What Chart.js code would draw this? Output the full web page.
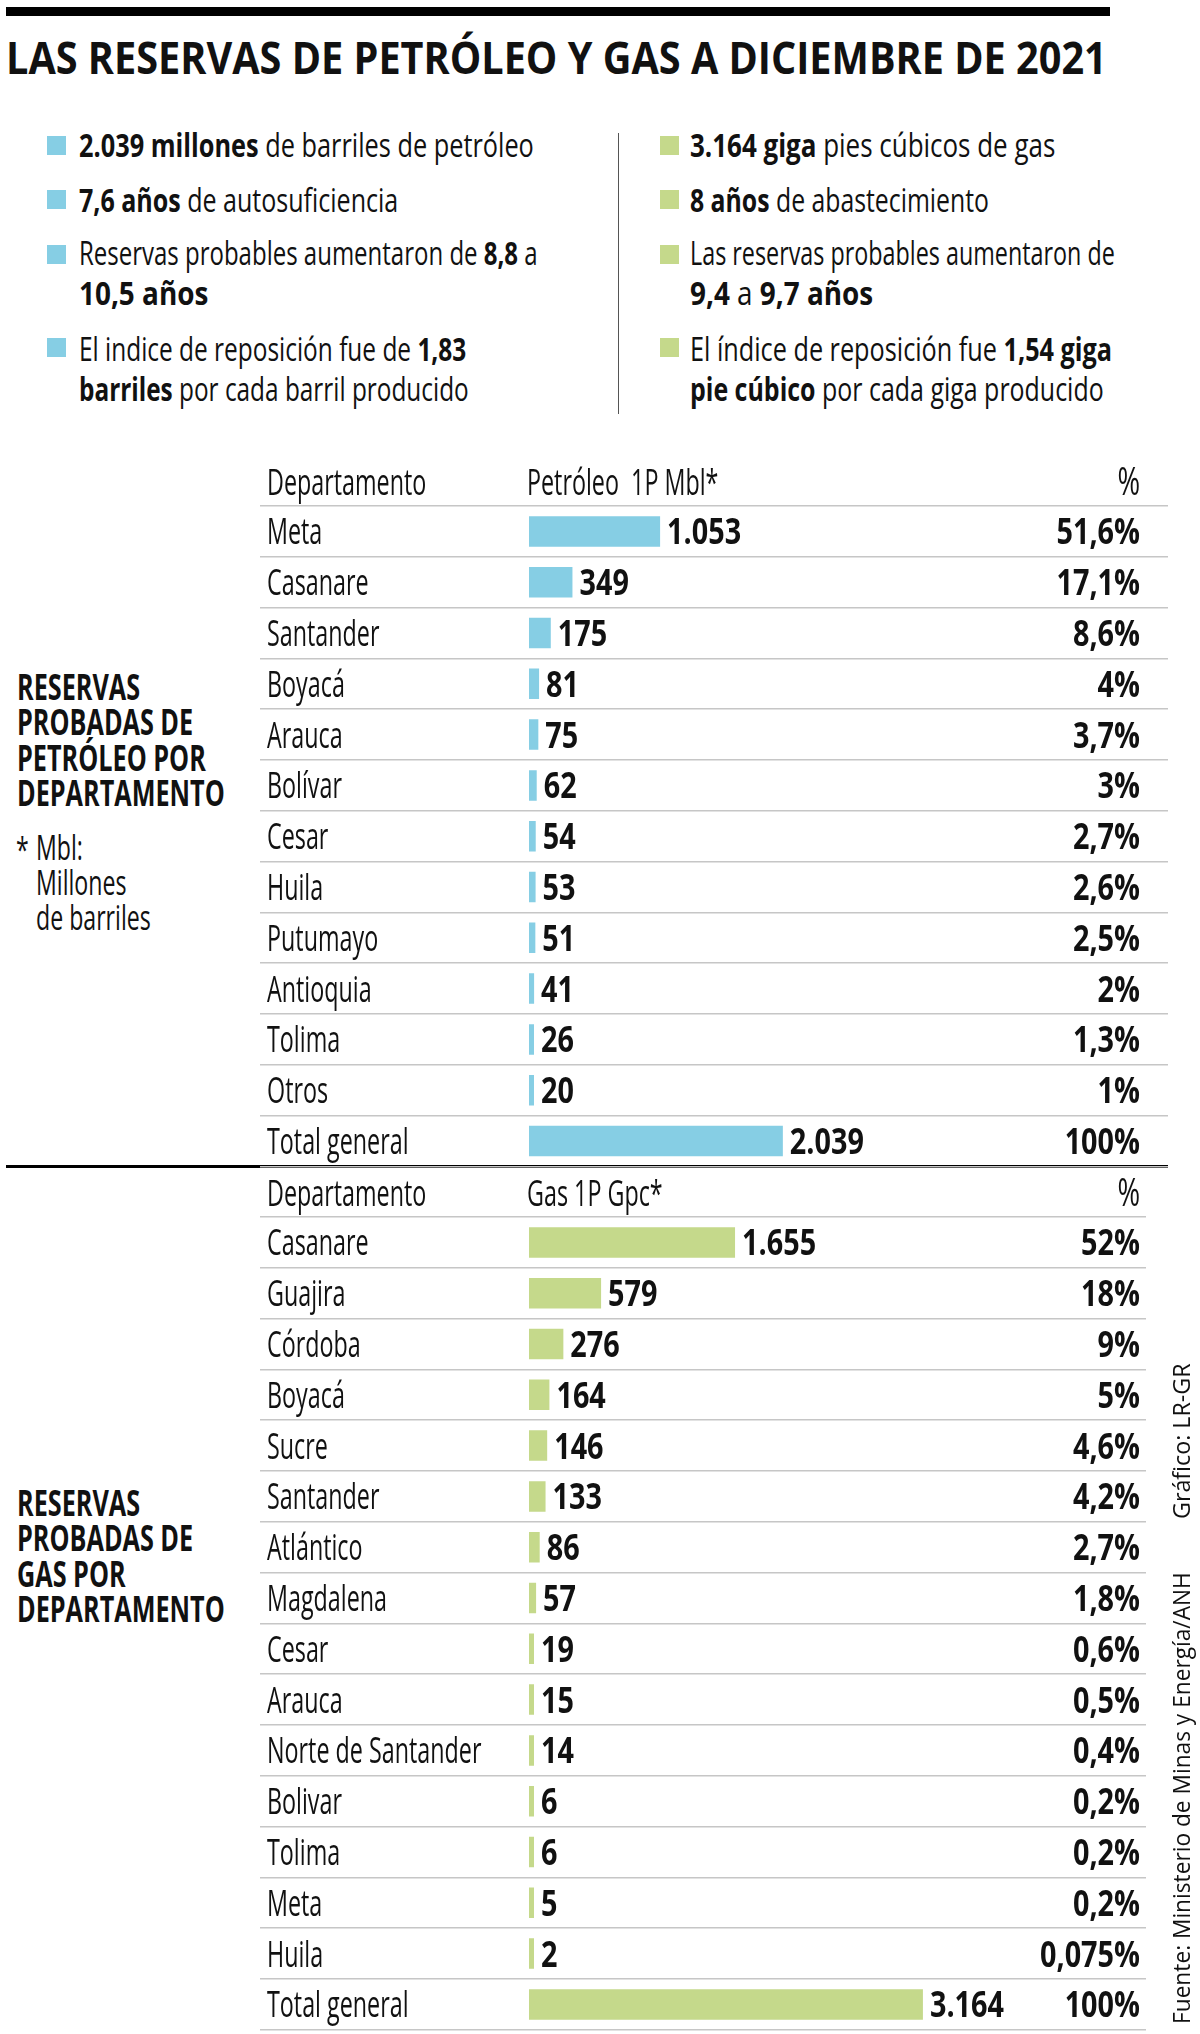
<!DOCTYPE html>
<html>
<head>
<meta charset="utf-8">
<script src="https://cdn.jsdelivr.net/npm/chart.js@4.4.1/dist/chart.umd.min.js"></script>
<style>
  body { margin: 0; width: 1200px; height: 2034px; position: relative; background: #fff; overflow: hidden;
         font-family: 'Open Sans', sans-serif; color: #111; }
  .abs { position: absolute; white-space: nowrap; transform-origin: 0 0; }
  .bar { position: absolute; background: #000; }
  .sq { position: absolute; width: 19px; height: 19px; }
  .ln { position: absolute; white-space: nowrap; transform-origin: 0 0; font-size: 32px; line-height: 32px; }
  .ln b { font-weight: 700; }
  .cap { font-size: 36px; font-weight: 700; line-height: 35.3px; }
  .note { font-size: 35px; line-height: 35px; }
  .vert { font-size: 24px; line-height: 24px; transform-origin: 0 0; }
  canvas { position: absolute; left: 0; }
</style>
</head>
<body>

<div class="bar" style="left:6px;top:7px;width:1104px;height:9px"></div>
<div class="abs fit" data-w="1101" style="left:6px;top:34px;font-size:45px;line-height:45px;font-weight:700">LAS RESERVAS DE PETRÓLEO Y GAS A DICIEMBRE DE 2021</div>

<!-- left bullets -->
<div class="sq blue" style="left:47px;top:136px"></div>
<div class="ln fit" data-w="455" style="left:79px;top:129px"><b>2.039 millones</b> de barriles de petróleo</div>
<div class="sq blue" style="left:47px;top:190px"></div>
<div class="ln fit" data-w="319" style="left:79px;top:184px"><b>7,6 años</b> de autosuficiencia</div>
<div class="sq blue" style="left:47px;top:245px"></div>
<div class="ln fit" data-w="459" style="left:79px;top:237px">Reservas probables aumentaron de <b>8,8</b> a</div>
<div class="ln fit" data-w="129" style="left:79px;top:277px"><b>10,5 años</b></div>
<div class="sq blue" style="left:47px;top:338px"></div>
<div class="ln fit" data-w="387" style="left:79px;top:333px">El indice de reposición fue de <b>1,83</b></div>
<div class="ln fit" data-w="390" style="left:79px;top:373px"><b>barriles</b> por cada barril producido</div>

<div class="abs" style="left:618px;top:133px;width:1px;height:281px;background:#555"></div>

<!-- right bullets -->
<div class="sq green" style="left:660px;top:136px"></div>
<div class="ln fit" data-w="365" style="left:690px;top:129px"><b>3.164 giga</b> pies cúbicos de gas</div>
<div class="sq green" style="left:660px;top:190px"></div>
<div class="ln fit" data-w="299" style="left:690px;top:184px"><b>8 años</b> de abastecimiento</div>
<div class="sq green" style="left:660px;top:245px"></div>
<div class="ln fit" data-w="425" style="left:690px;top:237px">Las reservas probables aumentaron de</div>
<div class="ln fit" data-w="183" style="left:690px;top:277px"><b>9,4</b> a <b>9,7 años</b></div>
<div class="sq green" style="left:660px;top:338px"></div>
<div class="ln fit" data-w="422" style="left:690px;top:333px">El índice de reposición fue <b>1,54 giga</b></div>
<div class="ln fit" data-w="414" style="left:690px;top:373px"><b>pie cúbico</b> por cada giga producido</div>

<!-- side captions -->
<div class="abs cap fit" data-w="208" style="left:17px;top:669px">RESERVAS<br>PROBADAS DE<br>PETRÓLEO POR<br>DEPARTAMENTO</div>
<div class="abs note" style="left:16px;top:831px;transform:scaleX(0.66)">*</div>
<div class="abs note fit" data-w="115" style="left:36px;top:829px">Mbl:<br>Millones<br>de barriles</div>
<div class="abs cap fit" data-w="208" style="left:17px;top:1485px">RESERVAS<br>PROBADAS DE<br>GAS POR<br>DEPARTAMENTO</div>

<div class="bar" style="left:6px;top:1165px;width:1162px;height:3px"></div>

<canvas id="oilChart"></canvas>
<canvas id="gasChart"></canvas>

<div class="abs vert fit" data-w="452" data-rot="1" style="left:1169px;top:2024px">Fuente: Ministerio de Minas y Energía/ANH</div>
<div class="abs vert fit" data-w="156" data-rot="1" style="left:1169px;top:1519px">Gráfico: LR-GR</div>

<script>
// petróleo
const oilDepartments = ['Meta', 'Casanare', 'Santander', 'Boyacá', 'Arauca', 'Bolívar', 'Cesar', 'Huila',
                        'Putumayo', 'Antioquia', 'Tolima', 'Otros', 'Total general'];
const oilValues = [1053, 349, 175, 81, 75, 62, 54, 53, 51, 41, 26, 20, 2039];
const oilShares = [51.6, 17.1, 8.6, 4, 3.7, 3, 2.7, 2.6, 2.5, 2, 1.3, 1, 100];
const oilHeader = ['Departamento', 'Petróleo  1P Mbl*', '%'];

// gas
const gasDepartments = ['Casanare', 'Guajira', 'Córdoba', 'Boyacá', 'Sucre', 'Santander', 'Atlántico', 'Magdalena',
                        'Cesar', 'Arauca', 'Norte de Santander', 'Bolivar', 'Tolima', 'Meta', 'Huila', 'Total general'];
const gasValues = [1655, 579, 276, 164, 146, 133, 86, 57, 19, 15, 14, 6, 6, 5, 2, 3164];
const gasShares = [52, 18, 9, 5, 4.6, 4.2, 2.7, 1.8, 0.6, 0.5, 0.4, 0.2, 0.2, 0.2, 0.075, 100];
const gasHeader = ['Departamento', 'Gas 1P Gpc*', '%'];

const BLUE = '#86cee4';
const GREEN = '#c5d98b';
const PX_PER_UNIT = 0.1245;
const LEFT_X = 260, ZERO_X = 529;
const ROW_H = 50.8, HEADER_H = 56, PAD_B = 4;

document.querySelectorAll('.blue').forEach(e => e.style.background = BLUE);
document.querySelectorAll('.green').forEach(e => e.style.background = GREEN);

function fmtNum(v) { return String(v).replace(/\B(?=(\d{3})+(?!\d))/g, '.'); }
function fmtPct(v) { return String(v).replace('.', ',') + '%'; }

// condensed look: squeeze the text horizontally
function squeezeText(ctx, text, x, y, font, sx, align) {
  ctx.save();
  ctx.font = font;
  ctx.textAlign = align || 'left';
  ctx.textBaseline = 'alphabetic';
  ctx.translate(x, y);
  ctx.scale(sx, 1);
  ctx.fillText(text, 0, 0);
  ctx.restore();
}

const tableText = {
  id: 'tableText',
  afterDatasetsDraw(chart, args, opts) {
    const ctx = chart.ctx;
    const yScale = chart.scales.y;
    const area = chart.chartArea;
    const bars = chart.getDatasetMeta(0).data;
    const reg = '400 37px "Open Sans"';
    const bold = '700 36px "Open Sans"';
    ctx.fillStyle = '#111';
    const hy = area.top - 11;
    squeezeText(ctx, opts.header[0], 267, hy, reg, 0.63);
    squeezeText(ctx, opts.header[1], 527, hy, reg, 0.63);
    squeezeText(ctx, opts.header[2], 1140, hy, '500 38px "Open Sans"', 0.72, 'right');
    chart.data.labels.forEach((lab, i) => {
      const by = yScale.getPixelForValue(i) + 13;
      squeezeText(ctx, lab, 267, by, reg, 0.63);
      squeezeText(ctx, fmtNum(chart.data.datasets[0].data[i]), bars[i].x + 7, by, bold, 0.8);
      squeezeText(ctx, fmtPct(opts.shares[i]), 1140, by, bold, 0.8, 'right');
    });
  }
};

function makeTable(id, top, labels, values, shares, header, color, rightX) {
  const canvas = document.getElementById(id);
  const h = Math.round(HEADER_H + labels.length * ROW_H + PAD_B);
  canvas.width = 1200; canvas.height = h;
  canvas.style.width = '1200px'; canvas.style.height = h + 'px';
  canvas.style.top = top + 'px';
  return new Chart(canvas, {
    type: 'bar',
    data: {
      labels: labels,
      datasets: [{ data: values, backgroundColor: color, borderWidth: 0, minBarLength: 5,
                   barPercentage: 0.6, categoryPercentage: 1 }]
    },
    options: {
      indexAxis: 'y',
      responsive: false,
      animation: false,
      layout: { padding: { left: LEFT_X, right: 1200 - rightX, top: HEADER_H, bottom: h - HEADER_H - labels.length * ROW_H } },
      plugins: {
        legend: { display: false },
        tooltip: { enabled: false },
        tableText: { header: header, shares: shares }
      },
      scales: {
        x: { display: false, min: -(ZERO_X - LEFT_X) / PX_PER_UNIT, max: (rightX - ZERO_X) / PX_PER_UNIT },
        y: {
          grid: { color: c => c.index === labels.length ? 'rgba(0,0,0,0)' : '#c6c6c6',
                  lineWidth: 1.5, drawTicks: false, offset: true },
          border: { display: false },
          ticks: { display: false }
        }
      }
    },
    plugins: [tableText]
  });
}

makeTable('oilChart', 506 - HEADER_H, oilDepartments, oilValues, oilShares, oilHeader, BLUE, 1168);
makeTable('gasChart', 1217 - HEADER_H, gasDepartments, gasValues, gasShares, gasHeader, GREEN, 1146);

// squeeze html text to the widths of the original layout
document.querySelectorAll('.fit').forEach(el => {
  el.style.display = 'inline-block';
  const k = (+el.dataset.w) / el.offsetWidth;
  el.style.transform = el.dataset.rot ? 'rotate(-90deg) scaleX(' + k + ')' : 'scaleX(' + k + ')';
});
</script>
</body>
</html>
